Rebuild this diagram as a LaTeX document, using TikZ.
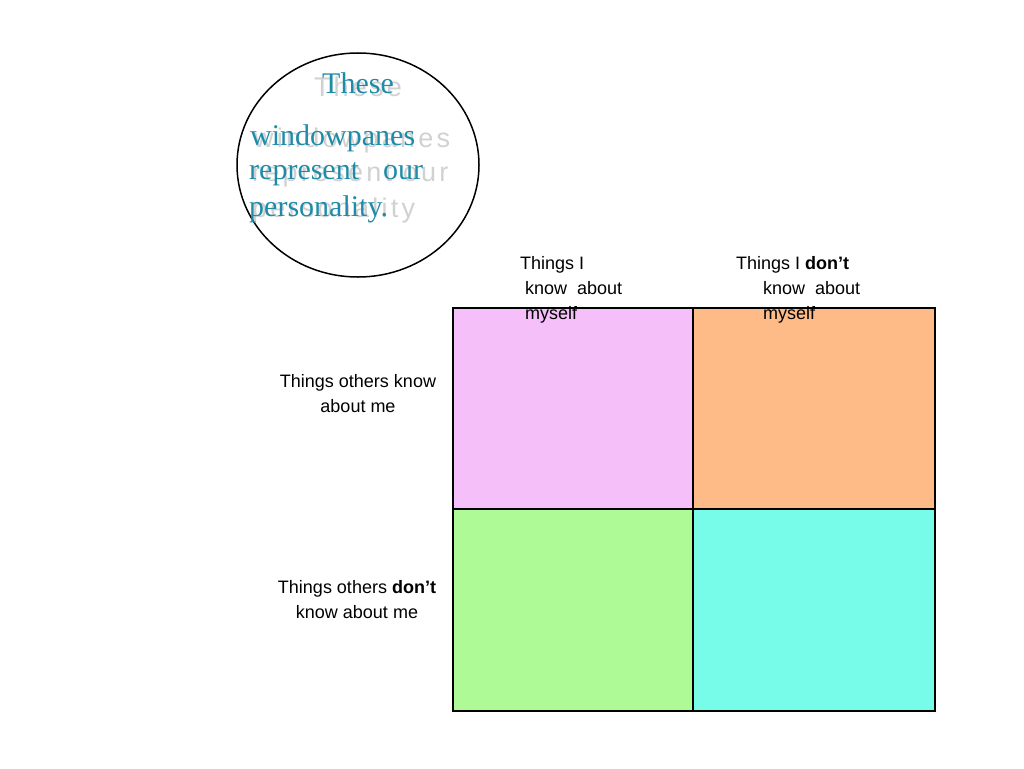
\documentclass[tikz,border=0pt]{standalone}
\usepackage{fontspec}
\setmainfont{Liberation Serif}
\newfontfamily\lab{Liberation Sans}
\newfontfamily\shdfont[LetterSpace=12]{Liberation Sans}
\begin{document}
\begin{tikzpicture}[x=1pt,y=-1pt]
\definecolor{teal1}{HTML}{1E8CA8}
\definecolor{pk}{HTML}{F5BFFA}
\definecolor{og}{HTML}{FFBB87}
\definecolor{gr}{HTML}{ADFA96}
\definecolor{cy}{HTML}{76FCE8}
\tikzset{cell/.style={draw=black,line width=1.5pt},
 lbl/.style={font=\lab\fontsize{18}{25}\selectfont,align=left,inner sep=0},
 ctx/.style={font=\fontsize{30}{34}\selectfont,text=teal1,anchor=west,inner sep=0},
 shd/.style={font=\shdfont\fontsize{27}{34}\selectfont,text=black!30,anchor=west,inner sep=0,opacity=0.6}}
\useasboundingbox (0,0) rectangle (1024,768);
\draw[line width=1.5pt] (358,165) ellipse [x radius=121, y radius=112];
\node[shd,anchor=center] (s1) at (358,87) {These};
\node[shd] (s2) at (254,141) {windowpanes};
\node[shd] (s3) at (252,176) {represent our};
\node[shd] (s4) at (252,211) {personality};
\node[ctx,anchor=center] (t1) at (358,83) {These};
\node[ctx] (t2) at (250,138) {windowpanes};
\node[ctx] (t3) at (249,174) {represent\hspace{24pt}our};
\node[ctx] (t4) at (249,209) {personality.};
\node[cell,fill=pk,minimum width=240pt,minimum height=201pt,inner sep=0] (a) at (573,408.5) {};
\node[cell,fill=og,minimum width=242pt,minimum height=201pt,inner sep=0] (b) at (814,408.5) {};
\node[cell,fill=gr,minimum width=240pt,minimum height=202pt,inner sep=0] (c) at (573,610) {};
\node[cell,fill=cy,minimum width=242pt,minimum height=202pt,inner sep=0] (d) at (814,610) {};
\node[lbl,anchor=north west] (l1) at (520,256) {Things I\\\ know\ \ about\\\ myself};
\node[lbl,anchor=north west] (l2) at (736,256) {Things I \textbf{don’t}\\\hspace{27pt}know\ \ about\\\hspace{27pt}myself};
\node[lbl,align=center] (l3) at (358,394) {Things others know\\about me};
\node[lbl,align=center] (l4) at (357,600) {Things others \textbf{don’t}\\know about me};
\end{tikzpicture}
\end{document}
